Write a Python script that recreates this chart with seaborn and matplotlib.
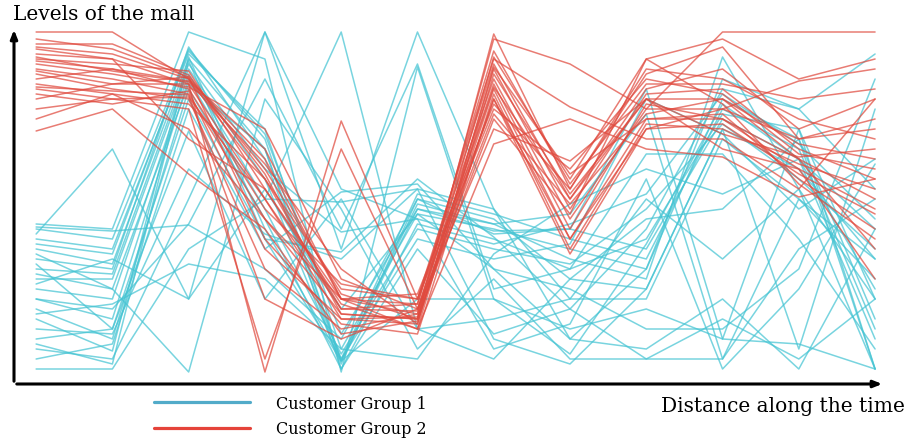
import numpy as np
import pandas as pd
import matplotlib
matplotlib.use("Agg")
import matplotlib.pyplot as plt
import seaborn as sns
from matplotlib.lines import Line2D

# time steps along the x axis (12 stops)
steps = list(range(12))

# Customer Group 1 (cyan) - level at each step
group1 = [
    [143, 133, 323, 233, 11, 168, 148, 113, 93, 315, 183, 73],
    [133, 123, 318, 243, 23, 158, 143, 123, 103, 273, 233, 3],
    [123, 108, 313, 223, 13, 178, 158, 133, 113, 263, 223, 43],
    [113, 103, 325, 213, 11, 163, 141, 143, 123, 253, 213, 33],
    [103, 98, 308, 203, 140, 153, 133, 103, 133, 258, 243, 73],
    [93, 93, 303, 193, 8, 173, 153, 93, 83, 243, 203, 113],
    [83, 73, 298, 173, 170, 183, 163, 73, 73, 233, 173, 93],
    [73, 53, 293, 163, 18, 143, 123, 108, 163, 248, 193, 123],
    [63, 33, 283, 153, 3, 148, 128, 148, 178, 278, 228, 153],
    [53, 21, 315, 143, 13, 133, 113, 128, 273, 238, 163, 213],
    [33, 43, 273, 133, 120, 193, 135, 63, 143, 283, 263, 318],
    [13, 28, 263, 123, 180, 188, 103, 83, 43, 43, 103, 293],
    [148, 143, 340, 313, 0, 305, 73, 43, 63, 33, 243, 3],
    [138, 223, 73, 340, 123, 340, 163, 33, 23, 73, 3, 143],
    [118, 83, 0, 273, 163, 23, 93, 13, 13, 13, 123, 173],
    [108, 43, 241, 73, 173, 43, 53, 73, 173, 113, 183, 3],
    [43, 38, 203, 138, 113, 183, 33, 8, 83, 243, 23, 263],
    [23, 13, 173, 340, 183, 153, 23, 48, 193, 3, 83, 208],
    [3, 3, 123, 173, 340, 43, 13, 93, 153, 163, 233, 53],
    [73, 63, 148, 293, 143, 308, 83, 103, 218, 218, 133, 23],
    [58, 68, 108, 93, 23, 13, 118, 168, 203, 178, 213, 83],
    [145, 141, 147, 103, 33, 173, 138, 143, 283, 33, 28, 3],
    [88, 113, 73, 183, 63, 158, 103, 33, 103, 293, 263, 183],
    [28, 8, 311, 133, 11, 73, 73, 18, 128, 268, 213, 143],
    [98, 83, 288, 223, 3, 123, 38, 63, 13, 53, 13, 73],
    [128, 118, 321, 238, 38, 163, 148, 158, 258, 13, 173, 113],
]

# Customer Group 2 (red)
group2 = [
    [340, 340, 293, 213, 73, 58, 333, 308, 263, 340, 340, 340],
    [333, 323, 295, 203, 78, 53, 315, 193, 313, 333, 293, 313],
    [325, 318, 293, 193, 63, 68, 308, 173, 283, 303, 243, 273],
    [318, 313, 288, 173, 53, 48, 303, 163, 278, 283, 223, 193],
    [313, 308, 301, 183, 68, 43, 298, 178, 273, 273, 213, 173],
    [311, 303, 283, 163, 88, 73, 293, 153, 263, 263, 233, 253],
    [308, 298, 285, 243, 93, 63, 288, 143, 268, 253, 203, 163],
    [303, 293, 278, 153, 58, 53, 283, 133, 253, 258, 193, 143],
    [301, 288, 295, 133, 48, 38, 278, 123, 248, 243, 208, 183],
    [298, 283, 273, 103, 43, 58, 273, 118, 243, 248, 198, 158],
    [293, 303, 291, 223, 73, 78, 268, 183, 303, 293, 253, 233],
    [288, 278, 268, 193, 83, 73, 263, 203, 293, 278, 218, 203],
    [283, 273, 275, 173, 63, 61, 258, 168, 258, 273, 228, 213],
    [278, 268, 281, 123, 53, 55, 253, 158, 313, 268, 188, 133],
    [273, 288, 288, 0, 251, 73, 313, 265, 233, 233, 183, 273],
    [263, 273, 263, 13, 223, 63, 243, 211, 273, 238, 215, 223],
    [253, 278, 243, 153, 73, 43, 228, 253, 223, 215, 175, 193],
    [241, 263, 198, 143, 38, 51, 273, 133, 243, 263, 291, 303],
    [323, 313, 233, 183, 73, 68, 321, 188, 288, 288, 273, 283],
    [328, 328, 297, 198, 58, 53, 338, 183, 298, 325, 233, 243],
    [315, 301, 290, 208, 103, 48, 305, 198, 253, 253, 213, 123],
    [285, 281, 277, 73, 33, 63, 285, 173, 273, 223, 203, 93],
]

group_names = ["Customer Group 1", "Customer Group 2"]
line_colors = {"Customer Group 1": "#45c4d3", "Customer Group 2": "#e04a3e"}
legend_colors = ["#52abc9", "#e5433a"]

# long format table for seaborn
rows = []
for gname, lines in zip(group_names, [group1, group2]):
    for i, vals in enumerate(lines):
        for s, v in zip(steps, vals):
            rows.append({"step": s, "level": v, "group": gname, "line": f"{gname}-{i}"})
df = pd.DataFrame(rows)

sns.set_style("white")
plt.rcParams["font.family"] = ["DejaVu Serif"]
plt.rcParams["text.color"] = "black"

fig = plt.figure(figsize=(9.11, 4.39), dpi=100)
ax = fig.add_axes([14 / 911, 1 - 385 / 439, 871 / 911, 357 / 439])

sns.lineplot(data=df, x="step", y="level", hue="group", units="line",
             estimator=None, palette=line_colors, lw=1.1, alpha=0.72,
             legend=False, ax=ax, sort=False)

ax.set_xlim(-0.29, 11.13)
ax.set_ylim(-12, 345)
ax.set_xticks([])
ax.set_yticks([])
ax.set_xlabel("")
ax.set_ylabel("")
for sp in ax.spines.values():
    sp.set_visible(False)

# axis arrows
arrow = dict(arrowstyle="-|>,head_length=0.5,head_width=0.2", color="black", lw=2.2)
ax.annotate("", xy=(0, 1.0), xytext=(0, 0), xycoords="axes fraction", arrowprops=arrow)
ax.annotate("", xy=(1.0, 0), xytext=(0, 0), xycoords="axes fraction", arrowprops=arrow)

fig.text(13 / 911, 1 - 15 / 439, "Levels of the mall", fontsize=14.5, va="center", ha="left")
fig.text(905 / 911, 1 - 407 / 439, "Distance along the time", fontsize=14.5, va="center", ha="right")

handles = [Line2D([0], [0], color=c, lw=2.3) for c in legend_colors]
fig.legend(handles, group_names, loc="center left",
           bbox_to_anchor=(140 / 911, 1 - 417 / 439), frameon=False,
           fontsize=11.5, handlelength=6.0, handletextpad=1.6, labelspacing=0.55)

fig.savefig("out.png", dpi=100)
